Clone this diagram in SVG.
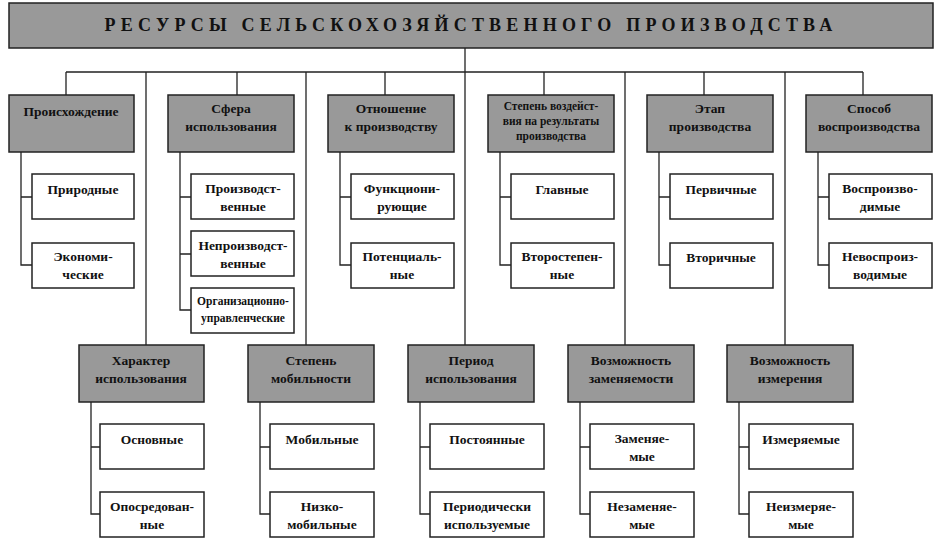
<svg xmlns="http://www.w3.org/2000/svg" width="942" height="545" viewBox="0 0 942 545">
<style>
.h{fill:#999;stroke:#222;stroke-width:1.5}
.c{fill:#fff;stroke:#222;stroke-width:1.5}
text{font-family:"Liberation Serif",serif;font-weight:bold;font-size:13.5px;text-anchor:middle;fill:#111}
.s{font-size:11.5px}
.l{fill:none;stroke:#222;stroke-width:1.3}
</style>
<rect width="942" height="545" fill="#fff"/>
<g id="connectors" class="l">
<path d="M465 48V72M66 72H863M66 72V95M237 72V95M385 72V95M544 72V95M704 72V95M863 72V95"/>
<path d="M146 72V345M306 72V345M465 72V345M625 72V345M785 72V345"/>
<path d="M21 152V265H32M21 197H32"/>
<path d="M180 152V310H191M180 197H191M180 254H191"/>
<path d="M340 152V265H351M340 197H351"/>
<path d="M500 152V265H511M500 197H511"/>
<path d="M659 152V265H670M659 197H670"/>
<path d="M818 152V265H829M818 197H829"/>
<path d="M91 402V514H100M91 447H100"/>
<path d="M260 402V514H270M260 447H270"/>
<path d="M420 402V514H430M420 447H430"/>
<path d="M580 402V514H590M580 447H590"/>
<path d="M739 402V514H749M739 447H749"/>
</g>
<g id="title"><rect class="h" x="9" y="3" width="924" height="45"/><text x="471" y="31" style="font-size:18px;letter-spacing:5.2px">РЕСУРСЫ  СЕЛЬСКОХОЗЯЙСТВЕННОГО  ПРОИЗВОДСТВА</text></g>
<g id="h1"><rect class="h" x="9" y="95" width="125" height="57"/><text x="71" y="116">Происхождение</text></g>
<g id="h2"><rect class="h" x="168" y="95" width="126" height="57"/><text x="231" y="113">Сфера</text><text x="231" y="131">использования</text></g>
<g id="h3"><rect class="h" x="328" y="95" width="126" height="57"/><text x="391" y="113">Отношение</text><text x="391" y="131">к производству</text></g>
<g id="h4"><rect class="h" x="488" y="95" width="126" height="57"/><text class="s" x="551" y="110">Степень воздейст-</text><text class="s" x="551" y="125">вия на результаты</text><text class="s" x="551" y="140">производства</text></g>
<g id="h5"><rect class="h" x="647" y="95" width="126" height="57"/><text x="710" y="113">Этап</text><text x="710" y="131">производства</text></g>
<g id="h6"><rect class="h" x="806" y="95" width="126" height="57"/><text x="869" y="113">Способ</text><text x="869" y="131">воспроизводства</text></g>
<g id="c11"><rect class="c" x="32" y="174" width="102" height="45"/><text x="83" y="194">Природные</text></g>
<g id="c12"><rect class="c" x="32" y="243" width="102" height="45"/><text x="83" y="261">Экономи-</text><text x="83" y="279">ческие</text></g>
<g id="c21"><rect class="c" x="191" y="174" width="103" height="45"/><text x="243" y="193">Производст-</text><text x="243" y="211">венные</text></g>
<g id="c22"><rect class="c" x="191" y="231" width="103" height="45"/><text x="243" y="250">Непроизводст-</text><text x="243" y="268">венные</text></g>
<g id="c23"><rect class="c" x="191" y="288" width="103" height="45"/><text class="s" x="243" y="305">Организационно-</text><text class="s" x="243" y="322">управленческие</text></g>
<g id="c31"><rect class="c" x="351" y="174" width="103" height="45"/><text x="402" y="193">Функциони-</text><text x="402" y="211">рующие</text></g>
<g id="c32"><rect class="c" x="351" y="243" width="103" height="45"/><text x="402" y="261">Потенциаль-</text><text x="402" y="279">ные</text></g>
<g id="c41"><rect class="c" x="511" y="174" width="103" height="45"/><text x="562" y="194">Главные</text></g>
<g id="c42"><rect class="c" x="511" y="243" width="103" height="45"/><text x="562" y="261">Второстепен-</text><text x="562" y="279">ные</text></g>
<g id="c51"><rect class="c" x="670" y="174" width="103" height="45"/><text x="721" y="194">Первичные</text></g>
<g id="c52"><rect class="c" x="670" y="243" width="103" height="45"/><text x="721" y="262">Вторичные</text></g>
<g id="c61"><rect class="c" x="829" y="174" width="103" height="45"/><text x="880" y="193">Воспроизво-</text><text x="880" y="211">димые</text></g>
<g id="c62"><rect class="c" x="829" y="243" width="103" height="45"/><text x="880" y="261">Невоспроиз-</text><text x="880" y="279">водимые</text></g>
<g id="h7"><rect class="h" x="79" y="345" width="125" height="57"/><text x="141" y="365">Характер</text><text x="141" y="383">использования</text></g>
<g id="h8"><rect class="h" x="248" y="345" width="126" height="57"/><text x="311" y="365">Степень</text><text x="311" y="383">мобильности</text></g>
<g id="h9"><rect class="h" x="408" y="345" width="126" height="57"/><text x="471" y="365">Период</text><text x="471" y="383">использования</text></g>
<g id="h10"><rect class="h" x="568" y="345" width="126" height="57"/><text x="631" y="365">Возможность</text><text x="631" y="383">заменяемости</text></g>
<g id="h11"><rect class="h" x="727" y="345" width="126" height="57"/><text x="790" y="365">Возможность</text><text x="790" y="383">измерения</text></g>
<g id="c71"><rect class="c" x="100" y="424" width="104" height="45"/><text x="152" y="444">Основные</text></g>
<g id="c72"><rect class="c" x="100" y="492" width="104" height="45"/><text x="152" y="511">Опосредован-</text><text x="152" y="529">ные</text></g>
<g id="c81"><rect class="c" x="270" y="424" width="104" height="45"/><text x="322" y="444">Мобильные</text></g>
<g id="c82"><rect class="c" x="270" y="492" width="104" height="45"/><text x="322" y="511">Низко-</text><text x="322" y="529">мобильные</text></g>
<g id="c91"><rect class="c" x="430" y="424" width="114" height="45"/><text x="487" y="444">Постоянные</text></g>
<g id="c92"><rect class="c" x="430" y="492" width="114" height="45"/><text x="487" y="511">Периодически</text><text x="487" y="529">используемые</text></g>
<g id="c101"><rect class="c" x="590" y="424" width="104" height="45"/><text x="642" y="443">Заменяе-</text><text x="642" y="461">мые</text></g>
<g id="c102"><rect class="c" x="590" y="492" width="104" height="45"/><text x="642" y="511">Незаменяе-</text><text x="642" y="529">мые</text></g>
<g id="c111"><rect class="c" x="749" y="424" width="104" height="45"/><text x="801" y="444">Измеряемые</text></g>
<g id="c112"><rect class="c" x="749" y="492" width="104" height="45"/><text x="801" y="511">Неизмеряе-</text><text x="801" y="529">мые</text></g>
</svg>
